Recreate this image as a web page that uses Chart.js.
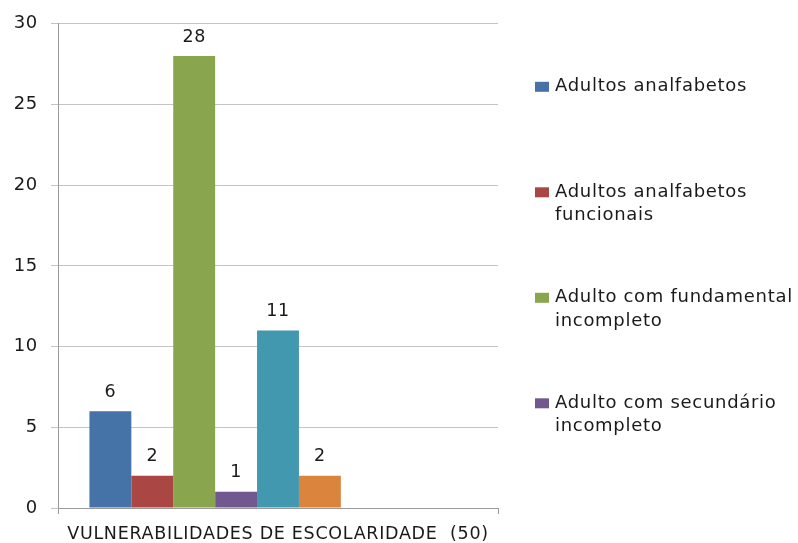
<!DOCTYPE html>
<html>
<head>
<meta charset="utf-8">
<script src="https://cdn.jsdelivr.net/npm/chart.js@4.4.1/dist/chart.umd.min.js"></script>
<style>
html,body{margin:0;padding:0;background:#fff;}
canvas{display:block;}
</style>
</head>
<body>
<canvas id="c" width="798" height="543"></canvas>
<script>
const categories = ["VULNERABILIDADES DE ESCOLARIDADE  (50)"];
const seriesNames = [
  "Adultos analfabetos",
  "Adultos analfabetos funcionais",
  "Adulto com fundamental incompleto",
  "Adulto com secundário incompleto",
  "Série 5",
  "Série 6",
  "Série 7",
  "Série 8",
  "Série 9"
];
const legendLines = [
  ["Adultos analfabetos"],
  ["Adultos analfabetos", "funcionais"],
  ["Adulto com fundamental", "incompleto"],
  ["Adulto com secundário", "incompleto"]
];
const seriesValues = [6, 2, 28, 1, 11, 2, null, null, null];
const seriesColors = ["#4572A7", "#AA4643", "#89A54E", "#71588F", "#4198AF", "#DB843D", "#93A9CF", "#D19392", "#B9CD96"];
const yTicks = [0, 5, 10, 15, 20, 25, 30];

const FONT = "'DejaVu Sans', sans-serif";
const TEXT = "#1a1a1a";

const datasets = seriesNames.map((name, i) => ({
  label: name,
  data: [seriesValues[i]],
  backgroundColor: seriesColors[i],
  borderWidth: 0
}));

const spacing = {
  id: 'spacing',
  beforeDraw(chart) { chart.ctx.letterSpacing = '0.7px'; }
};

const valueLabels = {
  id: 'valueLabels',
  afterDatasetsDraw(chart) {
    const ctx = chart.ctx;
    ctx.save();
    ctx.letterSpacing = '0.6px';
    ctx.font = "17.5px " + FONT;
    ctx.fillStyle = TEXT;
    ctx.textAlign = 'center';
    ctx.textBaseline = 'middle';
    chart.data.datasets.forEach((ds, i) => {
      const meta = chart.getDatasetMeta(i);
      meta.data.forEach((bar, j) => {
        const v = ds.data[j];
        if (v === null || v === undefined) return;
        ctx.fillText(String(v), bar.x, bar.y - 19);
      });
    });
    ctx.restore();
  }
};

const sideLegend = {
  id: 'sideLegend',
  afterDraw(chart) {
    const ctx = chart.ctx;
    const area = chart.chartArea;
    const x0 = area.right + 37;
    const firstY = area.top + 63;
    const step = 105.5;
    const lineH = 23.5;
    ctx.save();
    ctx.letterSpacing = '0.7px';
    ctx.font = "18px " + FONT;
    ctx.textBaseline = 'middle';
    ctx.textAlign = 'left';
    legendLines.forEach((lines, i) => {
      const y = firstY + i * step;
      ctx.fillStyle = seriesColors[i];
      ctx.fillRect(x0, y - 5, 14, 10);
      ctx.fillStyle = TEXT;
      lines.forEach((t, k) => ctx.fillText(t, x0 + 20, y + k * lineH));
    });
    ctx.restore();
  }
};

new Chart(document.getElementById('c'), {
  type: 'bar',
  data: { labels: categories, datasets },
  options: {
    responsive: false,
    animation: false,
    layout: { padding: { left: 0, right: 300, top: 22, bottom: 0 } },
    plugins: {
      legend: { display: false },
      tooltip: { enabled: false }
    },
    datasets: {
      bar: { categoryPercentage: 9 / 10.5, barPercentage: 1 }
    },
    scales: {
      x: {
        offset: true,
        grid: { display: true, drawOnChartArea: false, offset: true, tickLength: 6, color: '#9a9a9a' },
        border: { display: true, color: '#9a9a9a', width: 1 },
        ticks: { color: TEXT, font: { family: FONT, size: 17.5 }, padding: 10, maxRotation: 0 },
        afterFit(s) { s.height = 35; }
      },
      y: {
        min: 0, max: 30,
        afterBuildTicks(s) { s.ticks = yTicks.map(v => ({ value: v })); },
        grid: { color: '#c4c4c4', lineWidth: 1, tickLength: 7 },
        border: { display: true, color: '#9a9a9a', width: 1 },
        ticks: { color: TEXT, font: { family: FONT, size: 18 }, padding: 13 },
        afterFit(s) { s.width = 58; }
      }
    }
  },
  plugins: [spacing, valueLabels, sideLegend]
});
</script>
</body>
</html>
